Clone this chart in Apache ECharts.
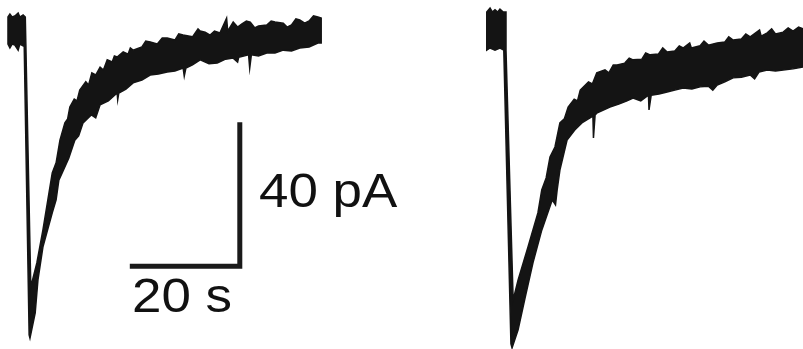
<!DOCTYPE html>
<html>
<head>
<meta charset="utf-8">
<style>
html,body{margin:0;padding:0;background:#fff;}
#chart{width:803px;height:349px;}
</style>
<script src="https://cdn.jsdelivr.net/npm/echarts@6/dist/echarts.min.js"></script>
</head>
<body>
<div id="chart"></div>
<script>
// Time in s, current in pA (0 = holding baseline). Band edges of the noisy traces.
var leftUpper = [[1.45,3.6],[1.8,4.4],[2.2,3.6],[2.7,3.9],[3.3,4.7],[3.6,3.6],[4.2,4.2],[4.6,3.6],[4.7,-3.9],
  [5.6,-71.4],[6.7,-64.7],[7.8,-55.6],[8.7,-47.2],[9.5,-39.7],[10.2,-36.9],[10.9,-30.6],[11.8,-25.8],[12.3,-24.7],
  [12.7,-21.4],[13.5,-19.2],[14.0,-19.7],[14.5,-16.7],[15.6,-14.4],[16.1,-15.3],[16.7,-11.9],[17.4,-12.5],
  [18.2,-10.3],[18.8,-11.1],[19.5,-8.3],[20.4,-8.9],[20.8,-7.2],[21.3,-7.5],[22.4,-6.1],[23.3,-6.7],[23.7,-5.0],
  [24.2,-5.6],[25.8,-4.7],[26.5,-3.1],[27.3,-3.3],[28.6,-3.9],[29.5,-2.2],[30.4,-2.2],[31.8,-2.8],[32.5,-1.1],
  [33.3,-1.4],[35.0,-1.9],[36.0,0.3],[36.4,-0.3],[37.3,-0.6],[38.2,-1.4],[39.0,-0.3],[40.0,-0.8],[41.2,3.3],
  [41.4,-0.3],[42.4,2.2],[43.2,0.8],[44.0,1.7],[44.8,2.5],[45.5,2.2],[46.3,0.6],[47.0,1.1],[48.5,1.4],
  [49.3,2.5],[50.0,2.2],[51.5,1.9],[52.2,0.8],[53.0,1.4],[53.8,3.1],[54.5,2.8],[55.4,1.9],[56.2,2.5],
  [57.0,3.9],[57.8,3.6],[58.4,3.3]];
var leftLower = [[1.45,-3.9],[1.8,-5.0],[2.2,-3.9],[2.7,-4.2],[3.3,-5.6],[3.6,-3.9],[4.2,-4.4],[4.4,-4.2],
  [5.3,-84.7],[5.45,-85.6],[6.4,-78.6],[6.9,-69.4],[7.8,-60.3],[9.5,-50.8],[10.2,-47.2],[10.7,-41.7],
  [11.3,-39.7],[12.5,-35.6],[13.6,-30.6],[14.3,-29.4],[15.1,-25.8],[16.6,-23.6],[17.4,-24.4],[18.2,-20.8],
  [19.7,-19.7],[21.3,-17.5],[21.4,-19.4],[21.6,-17.5],[22.9,-16.4],[24.2,-14.7],[25.8,-13.9],[27.3,-12.5],
  [28.8,-12.2],[30.4,-11.7],[31.8,-11.4],[33.3,-10.6],[33.5,-12.8],[33.8,-10.6],[35.0,-9.7],[36.4,-8.3],
  [38.0,-9.4],[39.5,-9.2],[41.0,-8.1],[42.4,-7.8],[43.2,-8.9],[43.4,-7.6],[45.2,-6.9],[45.4,-10.6],
  [45.7,-6.9],[47.0,-7.2],[48.5,-6.4],[50.0,-6.4],[51.5,-5.6],[53.0,-5.8],[54.5,-5.0],[56.2,-4.7],
  [57.8,-3.6],[58.4,-3.6]];
var rightUpper = [[88.5,5.0],[89.1,6.1],[89.5,5.0],[90.0,5.6],[90.5,5.0],[90.9,5.8],[91.5,5.0],[92.0,5.0],
  [92.0,-5.6],[93.3,-75.0],[94.2,-69.4],[96.0,-60.3],[97.8,-50.8],[98.5,-44.4],[99.3,-41.1],[100.0,-35.3],
  [100.9,-32.5],[101.8,-25.8],[102.6,-24.7],[103.3,-21.4],[104.4,-19.2],[105.0,-19.7],[105.5,-16.7],
  [107.0,-14.4],[107.7,-15.0],[108.5,-11.9],[110.0,-11.1],[110.7,-11.9],[111.5,-9.7],[112.2,-9.7],
  [113.6,-9.2],[114.4,-7.8],[115.1,-8.3],[116.7,-8.1],[117.4,-6.4],[118.2,-6.9],[119.7,-6.7],[120.5,-5.0],
  [121.3,-6.1],[122.7,-5.8],[123.5,-4.4],[124.2,-5.0],[125.4,-3.6],[125.7,-5.0],[127.3,-4.4],[128.0,-3.1],
  [128.8,-4.2],[130.4,-3.6],[131.8,-3.3],[132.5,-1.9],[133.3,-2.8],[134.8,-2.5],[135.6,-1.1],[136.4,-1.9],
  [138.1,0.0],[138.4,-1.7],[139.5,-0.8],[140.3,0.3],[141.0,-1.1],[142.4,-0.6],[143.3,0.6],[144.2,-0.3],
  [145.2,0.8],[146.0,0.3]];
var rightLower = [[88.5,-5.6],[89.1,-5.0],[90.0,-5.6],[90.9,-5.0],[91.6,-5.6],[92.9,-87.2],[93.1,-88.3],
  [94.2,-83.3],[95.5,-74.2],[96.9,-64.7],[98.5,-55.6],[100.4,-47.2],[101.0,-48.6],[101.3,-44.4],
  [101.8,-38.9],[103.1,-30.6],[104.5,-27.8],[105.8,-25.8],[107.8,-23.9],[107.9,-30.0],[108.2,-23.6],
  [108.5,-23.1],[110.9,-21.4],[112.5,-20.6],[114.0,-19.7],[115.1,-18.9],[116.5,-19.7],[117.9,-18.1],[118.0,-22.2],
  [118.4,-18.1],[119.8,-17.8],[121.3,-17.2],[122.7,-16.7],[124.2,-16.1],[125.8,-16.4],[127.3,-15.8],
  [128.8,-15.6],[129.6,-16.7],[130.4,-15.3],[131.8,-14.4],[133.3,-13.3],[134.8,-13.1],[136.4,-12.5],[137.2,-13.6],[138.0,-11.7],
  [139.5,-11.1],[141.0,-11.4],[142.4,-11.1],[144.2,-10.8],[146.0,-10.3]];
// Scale bar: corner at (43.6 s, -65.6 pA), 20 s and 40 pA long
var scaleBarCorner = [43.6, -65.6];
var scaleBarTime = 20;   // s
var scaleBarCurrent = 40; // pA
var traces = [[leftUpper, leftLower], [rightUpper, rightLower]];

var chart = echarts.init(document.getElementById('chart'));
chart.setOption({
  animation: false,
  backgroundColor: '#ffffff',
  grid: {left: 0, right: 0, top: 0, bottom: 0},
  xAxis: {type: 'value', min: 0, max: 146, show: false},
  yAxis: {type: 'value', min: -88.61, max: 8.33, show: false},
  series: [
    {
      type: 'custom',
      clip: false,
      data: [[0, 0], [1, 0]],
      renderItem: function (params, api) {
        var tr = traces[params.dataIndex];
        var pts = [];
        tr[0].forEach(function (p) { pts.push(api.coord(p)); });
        for (var i = tr[1].length - 1; i >= 0; i--) pts.push(api.coord(tr[1][i]));
        return {
          type: 'polygon',
          shape: {points: pts},
          style: {fill: '#141414', stroke: '#141414', lineWidth: 1.5, lineJoin: 'miter'}
        };
      }
    },
    {
      type: 'line',
      symbol: 'none',
      data: [
        [scaleBarCorner[0] - scaleBarTime, scaleBarCorner[1]],
        scaleBarCorner,
        [scaleBarCorner[0], scaleBarCorner[1] + scaleBarCurrent]
      ],
      lineStyle: {color: '#1a1a1a', width: 5, join: 'miter', cap: 'butt'}
    }
  ],
  graphic: [
    {type: 'text', x: 259, y: 169, scaleX: 1.08, style: {text: '40 pA', font: '49px "Liberation Sans", Arial, sans-serif', fill: '#111'}},
    {type: 'text', x: 132, y: 274, scaleX: 1.08, style: {text: '20 s', font: '49px "Liberation Sans", Arial, sans-serif', fill: '#111'}}
  ]
});
</script>
</body>
</html>
